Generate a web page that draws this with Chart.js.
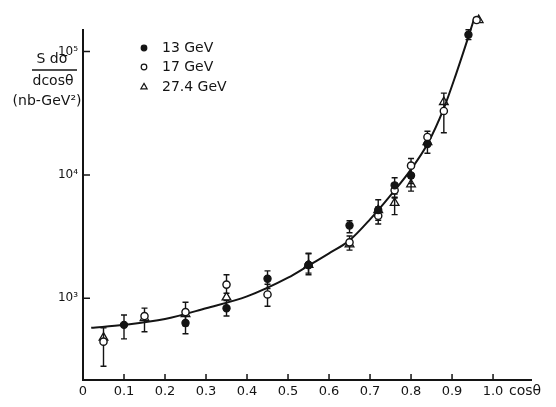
<!DOCTYPE html>
<html>
<head>
<meta charset="utf-8">
<script src="https://cdn.jsdelivr.net/npm/chart.js@4"></script>
<style>
  html, body { margin: 0; background: #fff; }
  #chart { display: block; }
</style>
</head>
<body>
<canvas id="chart" width="556" height="407"></canvas>
<script>
// values: cos(theta) and S dsigma/dcos(theta) in nb-GeV^2
const cos13 = [0.10, 0.25, 0.35, 0.45, 0.55, 0.65, 0.72, 0.76, 0.80, 0.84, 0.94]
const sig13 = [610, 632, 832, 1443, 1866, 3890, 5200, 8240, 9910, 17800, 137000]
const lo13 = [470, 516, 719, 1200, 1554, 3400, 4300, 7000, 8500, 15000, 125000]
const hi13 = [733, 760, 960, 1670, 2325, 4250, 6300, 9500, 11500, 21000, 150000]

const cos17 = [0.05, 0.15, 0.25, 0.35, 0.45, 0.55, 0.65, 0.72, 0.76, 0.80, 0.84, 0.88, 0.96]
const sig17 = [446, 719, 774, 1293, 1076, 1866, 2844, 4668, 7520, 11900, 20300, 33000, 180000]
const lo17 = [282, 536, 600, 1100, 864, 1600, 2460, 4000, 6500, 10300, 17500, 22000, null]
const hi17 = [577, 833, 929, 1554, 1300, 2300, 3200, 5500, 8500, 13600, 22600, 46000, null]

const cos27 = [0.05, 0.15, 0.25, 0.35, 0.55, 0.65, 0.72, 0.76, 0.80, 0.84, 0.88, 0.965]
const sig27 = [480, 693, 746, 1018, 1866, 2740, 5200, 5930, 8400, 18500, 39000, 180000]
const lo27 = [null, null, null, null, null, null, null, 4770, 7400, null, null, null]
const hi27 = [null, null, null, null, null, null, null, 6600, 9400, null, null, null]

// fitted curve
const fitCos = [0.02, 0.10, 0.20, 0.30, 0.40, 0.50, 0.55, 0.60, 0.65, 0.70, 0.75, 0.80, 0.84, 0.88, 0.91, 0.94, 0.955]
const fitSig = [577, 610, 680, 832, 1037, 1470, 1841, 2317, 2951, 4365, 6840, 11100, 17800, 34700, 66000, 132000, 190000]

const xTicks = [0, 0.1, 0.2, 0.3, 0.4, 0.5, 0.6, 0.7, 0.8, 0.9, 1.0]
const yTicks = [1e3, 1e4, 1e5]
const yTickLabels = ['10³', '10⁴', '10⁵']

const ink = '#141414'
const font = '"DejaVu Sans", sans-serif'

const pts = (xs, ys) => xs.map((x, i) => ({ x, y: ys[i] }))

const errorBars = {
  id: 'errorBars',
  beforeDatasetsDraw(chart) {
    const { ctx, scales: { x, y } } = chart
    ctx.save()
    ctx.strokeStyle = ink
    ctx.lineWidth = 1.4
    chart.data.datasets.forEach((ds) => {
      if (!ds.lo) return
      ds.data.forEach((p, i) => {
        if (ds.lo[i] == null) return
        const px = x.getPixelForValue(p.x)
        const y1 = y.getPixelForValue(ds.lo[i])
        const y2 = y.getPixelForValue(ds.hi[i])
        ctx.beginPath()
        ctx.moveTo(px, y1); ctx.lineTo(px, y2)
        ctx.moveTo(px - 3, y1); ctx.lineTo(px + 3, y1)
        ctx.moveTo(px - 3, y2); ctx.lineTo(px + 3, y2)
        ctx.stroke()
      })
    })
    ctx.restore()
  },
}

const decorations = {
  id: 'decorations',
  afterDraw(chart) {
    const { ctx, chartArea: area, scales: { x, y } } = chart
    ctx.save()
    ctx.strokeStyle = ink
    ctx.fillStyle = ink
    ctx.lineWidth = 2
    // axes: the vertical one stops a little above 10^5
    ctx.beginPath()
    ctx.moveTo(area.left, 29); ctx.lineTo(area.left, area.bottom)
    ctx.lineTo(area.right, area.bottom)
    ctx.stroke()
    // inward tick marks
    ctx.lineWidth = 1.5
    ctx.beginPath()
    xTicks.forEach((v) => {
      const px = x.getPixelForValue(v)
      ctx.moveTo(px, area.bottom); ctx.lineTo(px, area.bottom - 6)
    })
    yTicks.forEach((v) => {
      const py = y.getPixelForValue(v)
      ctx.moveTo(area.left, py); ctx.lineTo(area.left + 7, py)
    })
    ctx.stroke()

    // axis titles
    ctx.font = '14px ' + font
    ctx.textBaseline = 'middle'
    ctx.textAlign = 'left'
    ctx.fillText('cosθ', 509, 391)
    ctx.textAlign = 'center'
    ctx.fillText('S dσ', 52, 59)
    ctx.beginPath()
    ctx.moveTo(32, 70); ctx.lineTo(77, 70)
    ctx.lineWidth = 1.3
    ctx.stroke()
    ctx.fillText('dcosθ', 53, 81)
    ctx.fillText('(nb-GeV²)', 47, 101)

    // legend, symbols taken from the datasets
    const rows = [[48, 0], [67, 1], [87, 2]]
    rows.forEach(([ry, i]) => {
      const ds = chart.data.datasets[i]
      ctx.fillStyle = ds.backgroundColor
      ctx.strokeStyle = ds.borderColor
      ctx.lineWidth = 1.2
      Chart.helpers.drawPoint(ctx, {
        pointStyle: ds.pointStyle,
        radius: ds.pointStyle === 'triangle' ? 3.6 : 2.8,
        borderWidth: 1.2,
      }, 144, ry)
      ctx.fillStyle = ink
      ctx.textAlign = 'left'
      ctx.fillText(ds.label, 162, ry)
    })
    ctx.restore()
  },
}

new Chart(document.getElementById('chart'), {
  type: 'scatter',
  data: {
    datasets: [
      {
        label: '13 GeV',
        data: pts(cos13, sig13), lo: lo13, hi: hi13,
        pointStyle: 'circle', pointRadius: 3.6,
        backgroundColor: ink, borderColor: ink, borderWidth: 1.2,
        order: 1,
      },
      {
        label: '17 GeV',
        data: pts(cos17, sig17), lo: lo17, hi: hi17,
        pointStyle: 'circle', pointRadius: 3.6,
        backgroundColor: '#fff', borderColor: ink, borderWidth: 1.4,
        order: 2,
      },
      {
        label: '27.4 GeV',
        data: pts(cos27, sig27), lo: lo27, hi: hi27,
        pointStyle: 'triangle', pointRadius: 5,
        backgroundColor: 'rgba(255,255,255,0)', borderColor: ink, borderWidth: 1.3,
        order: 3,
      },
      {
        type: 'line',
        label: 'fit',
        data: pts(fitCos, fitSig),
        borderColor: ink, borderWidth: 2,
        pointRadius: 0, cubicInterpolationMode: 'monotone',
        order: 4,
      },
    ],
  },
  options: {
    responsive: false,
    animation: false,
    layout: { padding: { top: 0, right: 24, left: 0, bottom: 0 } },
    plugins: { legend: { display: false }, tooltip: { enabled: false } },
    scales: {
      x: {
        type: 'linear', min: 0, max: 1.095,
        grid: { display: false, drawTicks: false },
        border: { display: false },
        afterBuildTicks: (s) => { s.ticks = xTicks.map((value) => ({ value })) },
        afterFit: (s) => { s.height = 27 },
        ticks: {
          color: ink, padding: 4,
          font: { family: font, size: 13 },
          callback: (v) => (v === 0 ? '0' : v.toFixed(1)),
        },
      },
      y: {
        type: 'logarithmic', min: 218, max: 232600,
        grid: { display: false, drawTicks: false },
        border: { display: false },
        afterBuildTicks: (s) => { s.ticks = yTicks.map((value) => ({ value })) },
        afterFit: (s) => { s.width = 83; s.paddingTop = 0; s.paddingBottom = 0 },
        ticks: {
          color: ink, padding: 5,
          font: { family: font, size: 12 },
          callback: (v) => yTickLabels[yTicks.indexOf(v)] ?? '',
        },
      },
    },
  },
  plugins: [errorBars, decorations],
})
</script>
</body>
</html>
